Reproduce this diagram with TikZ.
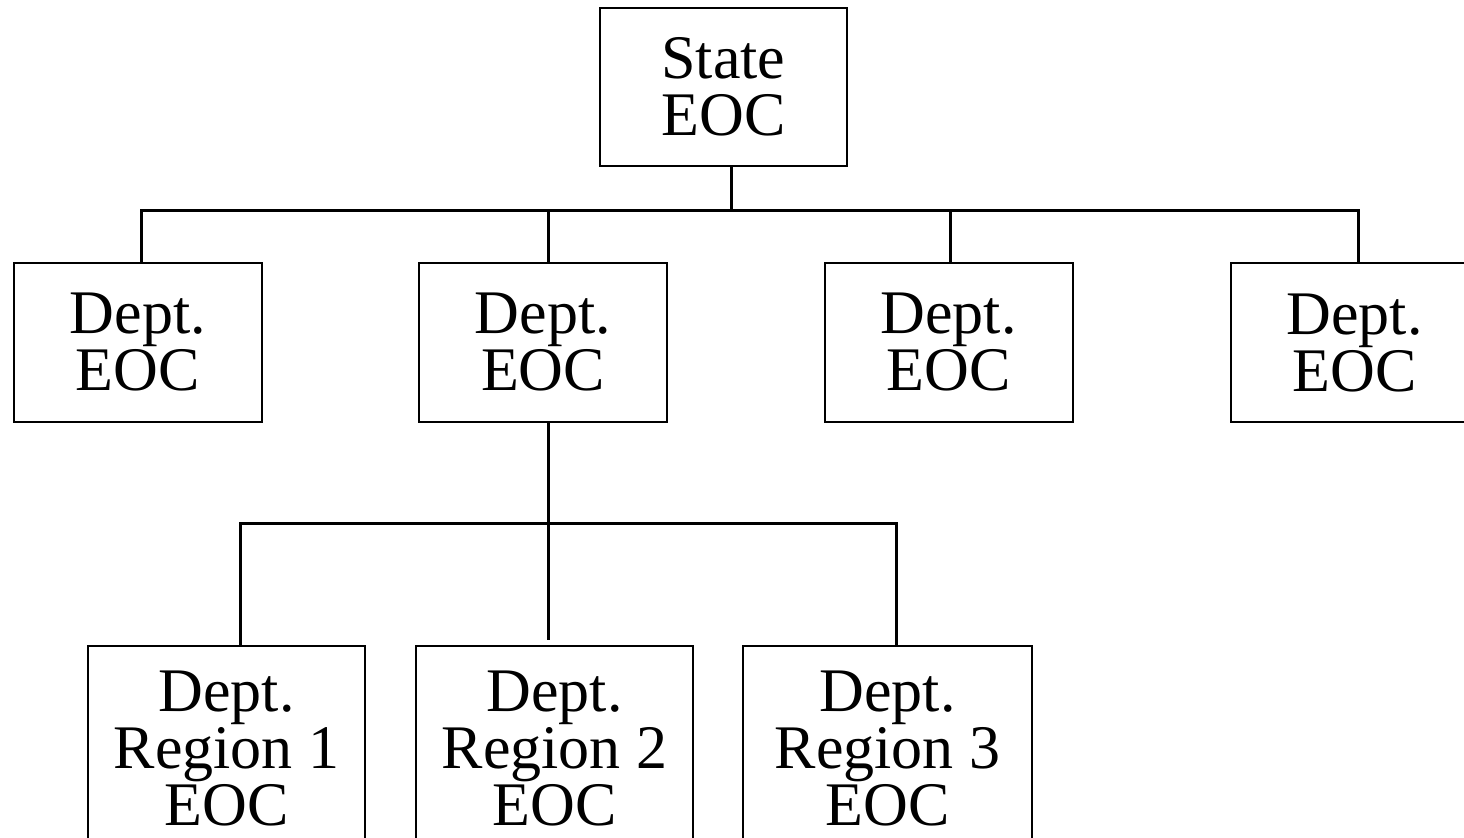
\documentclass[tikz,border=0pt]{standalone}
\usepackage{fontspec}
\setmainfont{Liberation Serif}
\begin{document}
\begin{tikzpicture}[x=0.5pt,y=-0.5pt,
  box/.style={draw,line width=1pt,inner sep=0pt,align=center,
    font=\fontsize{31}{28.5}\selectfont},
  topbox/.style={box,minimum width=123.5pt,minimum height=79pt},
  deptbox/.style={box,minimum width=124pt,minimum height=79.5pt},
  regbox/.style={box,minimum width=138.5pt,minimum height=103pt},
  conn/.style={line width=1.5pt}]
\clip (0,0) rectangle (1464,838);
\node[topbox] (state) at (723.5,87) {State\\EOC};
\node[deptbox] (d1) at (138,342.5) {Dept.\\EOC};
\node[deptbox] (d2) at (543,342.5) {Dept.\\EOC};
\node[deptbox] (d3) at (948.5,342.5) {Dept.\\EOC};
\node[deptbox] (d4) at (1354.5,343) {Dept.\\EOC};
\node[regbox] (r1) at (226.5,749) {Dept.\\Region 1\\EOC};
\node[regbox] (r2) at (554.5,749) {Dept.\\Region 2\\EOC};
\node[regbox,minimum width=144.25pt] (r3) at (887.5,749) {Dept.\\Region 3\\EOC};
% upper bus
\coordinate (j0) at (731,211);
\coordinate (j1) at (141,211);
\coordinate (j2) at (548,211);
\coordinate (j3) at (950,211);
\coordinate (j4) at (1358,211);
\draw[conn] (j0 |- state.south) -- (j0);
\draw[conn] (j1 |- d1.north) -- (j1) -- (j4) -- (j4 |- d4.north);
\draw[conn] (j2) -- (j2 |- d2.north);
\draw[conn] (j3) -- (j3 |- d3.north);
% lower bus
\coordinate (k0) at (548,524);
\coordinate (k1) at (240,524);
\coordinate (k3) at (896,524);
\draw[conn] (k0 |- d2.south) -- (k0);
\draw[conn] (k1 |- r1.north) -- (k1) -- (k3) -- (k3 |- r3.north);
\draw[conn] (k0) -- (k0 |- 0,640) coordinate (k2);
\end{tikzpicture}
\end{document}
